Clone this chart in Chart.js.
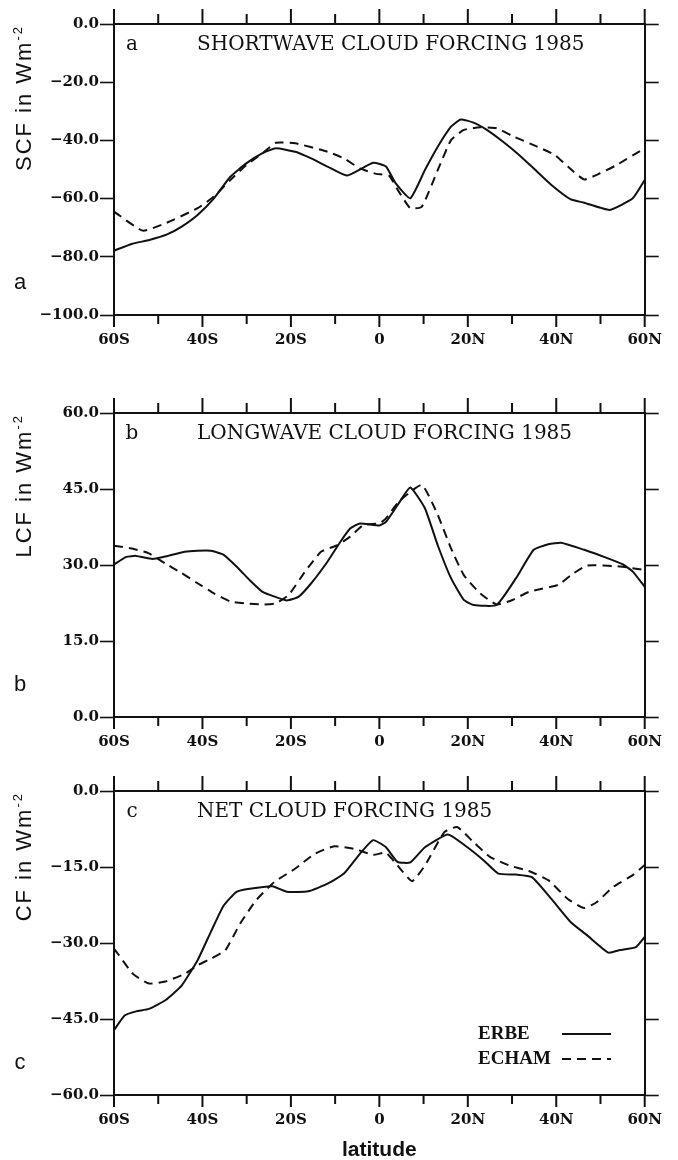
<!DOCTYPE html>
<html>
<head>
<meta charset="utf-8">
<script src="https://cdn.jsdelivr.net/npm/chart.js@4.4.1/dist/chart.umd.min.js"></script>
<style>
html,body{margin:0;padding:0;background:#fff;}
body{width:678px;height:1160px;position:relative;overflow:hidden;}
canvas{position:absolute;left:0;}
</style>
</head>
<body>
<canvas id="cA" width="678" height="370" style="top:0px"></canvas>
<canvas id="cB" width="678" height="395" style="top:370px"></canvas>
<canvas id="cC" width="678" height="395" style="top:765px"></canvas>
<script>
/* latitude ticks, negative = south */
const latTicks = [-60,-50,-40,-30,-20,-10,0,10,20,30,40,50,60];

/* a: shortwave cloud forcing */
const swErbeLat = [-60,-56,-52,-48,-44.7,-41.1,-37.4,-33.7,-30.1,-26.4,-23.4,-19,-15.4,-11.7,-7.3,-1.4,1.5,3.7,7,10.3,13.2,16.2,18.4,21.3,24.3,27.9,31.6,35.3,38.9,43.3,46.3,52.1,57.3,60];
const swErbe    = [-77.9,-75.6,-74.2,-72.3,-69.6,-65.6,-59.9,-52.5,-47.9,-44.4,-42.7,-43.9,-46.2,-49.0,-52.1,-47.7,-49.0,-54.8,-59.9,-50.2,-42.2,-35.3,-32.8,-33.9,-36.4,-40.4,-45.0,-50.2,-55.3,-60.3,-61.4,-63.9,-59.9,-53.6];
const swEchamLat = [-60,-53.5,-48.4,-41.1,-37.4,-33.7,-30.1,-26.4,-23.4,-19,-11.7,-8,-4.4,-0.7,2.2,4.4,7,9.6,13.2,16.2,19.1,22.8,26.5,30.1,35.3,39.7,42.6,46.3,49.9,53.6,60];
const swEcham    = [-64.5,-71.0,-68.5,-63.3,-59.3,-53.6,-48.5,-44.4,-40.8,-41.0,-43.9,-46.2,-49.6,-51.5,-52.1,-57.6,-63.3,-62.8,-50.2,-39.9,-36.4,-35.5,-35.8,-38.5,-41.9,-45.0,-49.0,-53.4,-51.3,-48.5,-42.7];

/* b: longwave cloud forcing */
const lwErbeLat = [-60,-57.2,-55,-51.3,-47.7,-44,-41.1,-38.1,-35.2,-32.3,-29.3,-26.4,-23.5,-20.9,-18.3,-15.4,-11.7,-8.8,-6.6,-4.4,0,1.5,4.4,7,10.3,13.2,16.2,19.1,21.3,26.5,30.9,34.9,38.2,41.1,46.3,51.4,55.1,57.3,60];
const lwErbe    = [30.1,31.6,31.8,31.2,31.8,32.6,32.8,32.8,32.0,29.7,27.0,24.7,23.7,23.0,23.7,26.4,30.7,34.6,37.2,38.2,37.8,38.5,42.2,45.3,41.2,33.9,27.4,23.1,22.1,22.1,27.4,33.0,34.1,34.4,33.0,31.4,30.1,28.7,25.7];
const lwEchamLat = [-60,-55.7,-52.1,-48.4,-44.7,-41.1,-37.4,-33.7,-30.1,-26.4,-23.5,-20.5,-16.8,-13.2,-9.5,-6.6,-3.6,0,1.5,4.4,9.6,13.2,16.2,19.1,22.8,26.5,30.1,33.8,40.5,43.3,47,54.4,60];
const lwEcham    = [33.8,33.2,32.3,30.3,28.4,26.4,24.4,22.8,22.4,22.2,22.4,24.1,28.7,32.6,33.9,35.6,37.9,38.2,39.2,42.5,45.8,39.9,33.3,28.0,24.4,22.2,23.1,24.7,26.1,28.0,29.9,29.7,29.0];

/* c: net cloud forcing */
const cfErbeLat = [-60,-57.6,-55,-52.1,-48.4,-44.7,-41.1,-38.1,-35.2,-32.3,-29.3,-24.2,-20.9,-16.1,-11.7,-8,-4.4,-1.4,1.5,4.1,7,10.3,15.5,19.9,23.6,26.9,30.9,34.5,38.9,43.3,47,51.8,54.4,58,60];
const cfErbe    = [-47.2,-44.3,-43.5,-43.0,-41.3,-38.4,-33.4,-27.8,-22.6,-19.9,-19.3,-18.8,-19.9,-19.8,-18.3,-16.3,-12.4,-9.7,-11.1,-14.0,-14.1,-11.1,-8.6,-11.1,-13.7,-16.3,-16.5,-17.0,-21.3,-25.9,-28.5,-31.9,-31.4,-30.8,-28.8];
const cfEchamLat = [-60,-55.7,-52.1,-48.4,-44,-41.1,-38.1,-34.8,-31.5,-27.9,-23.8,-19,-14.6,-10.2,-5.8,-1.4,1.5,4.1,7.4,10.3,14.7,17.6,21.3,25,29.4,33.8,38.2,42.6,46.3,49.2,52.9,57.3,60];
const cfEcham    = [-31.1,-36.1,-38.0,-37.6,-36.1,-34.4,-33.1,-31.4,-26.2,-21.6,-18.0,-15.3,-12.4,-10.9,-11.4,-12.6,-12.2,-14.7,-17.8,-14.7,-8.1,-7.1,-10.1,-13.0,-14.7,-15.8,-17.6,-21.3,-23.1,-21.9,-18.9,-16.6,-14.6];

const seriesNames = ["ERBE","ECHAM"];

const INK = "#111";

function latLabel(v){ return v<0 ? (-v)+"S" : v>0 ? v+"N" : "0"; }
function numLabel(v){ return (v<0?"\u2212":"") + Math.abs(v).toFixed(1); }

/* frame, outward ticks, titles, legend */
const framePlugin = {
    id:"frame",
    afterDraw(chart, args, o){
        const {ctx, chartArea:a, scales:{x}} = chart;
        ctx.save();
        ctx.strokeStyle=INK; ctx.lineWidth=2;
        ctx.beginPath(); ctx.moveTo(a.left-1,a.top); ctx.lineTo(a.right+1,a.top); ctx.stroke();
        latTicks.forEach(v=>{
            let px=x.getPixelForValue(v), big=v%20===0;
            ctx.beginPath();
            ctx.moveTo(px,a.top-(big?15:10)); ctx.lineTo(px,a.top);
            ctx.moveTo(px,a.bottom); ctx.lineTo(px,a.bottom+(big?12:9));
            ctx.stroke();
        });

        ctx.fillStyle=INK;
        ctx.textBaseline="middle";
        ctx.font='20px "DejaVu Serif"';
        ctx.textAlign="center";
        ctx.fillText(o.letter,132,a.top+21);
        ctx.textAlign="left";
        ctx.font='20px "DejaVu Serif"';
        ctx.fillText(o.title,197,a.top+21);

        ctx.font='22px "Liberation Sans"';
        ctx.textAlign="center";
        ctx.fillText(o.letter,20,a.bottom-32);

        if(o.legend){
            ctx.font='bold 19px "Liberation Serif"';
            ctx.textAlign="left";
            chart.data.datasets.forEach((d,i)=>{
                let y=o.legend.y+i*25;
                ctx.fillText(d.label,o.legend.x,y);
                ctx.setLineDash(d.borderDash||[]);
                ctx.lineWidth=1.8;
                ctx.beginPath(); ctx.moveTo(562,y); ctx.lineTo(611,y); ctx.stroke();
            });
            ctx.setLineDash([]);
        }

        /* rotated y title with superscript */
        ctx.translate(31,a.top+1);
        ctx.rotate(-Math.PI/2);
        ctx.textBaseline="alphabetic";
        ctx.textAlign="left";
        ctx.letterSpacing="2px";
        ctx.font='22px "Liberation Sans"';
        let w1=ctx.measureText(o.yTitle).width;
        ctx.font='13px "Liberation Sans"';
        let w2=ctx.measureText("-2").width;
        ctx.font='22px "Liberation Sans"';
        ctx.fillText(o.yTitle,-(w1+w2),0);
        ctx.font='13px "Liberation Sans"';
        ctx.fillText("-2",-w2,-9);
        ctx.restore();
    }
};

function panel(id, lats, vals, yMin, yMax, yStep, info, padTop, xHeight, xTitle){
    let tickFont={family:"DejaVu Serif",weight:"bold",size:15};
    let yGrid={display:true,drawOnChartArea:false,drawTicks:true,tickLength:14,color:INK,tickColor:INK,tickWidth:1.6};
    return new Chart(document.getElementById(id),{
        type:"line",
        data:{
            datasets:[0,1].map(k=>({
                label:seriesNames[k],
                data:lats[k].map((x,i)=>({x:x,y:vals[k][i]})),
                borderColor:INK,
                borderWidth:2,
                borderDash:k?[9,6]:[],
                pointRadius:0,
                tension:0.15,
                fill:false
            }))
        },
        options:{
            responsive:false,
            animation:false,
            layout:{padding:{top:padTop,left:0,right:0,bottom:0}},
            plugins:{legend:{display:false},tooltip:{enabled:false},frame:info},
            scales:{
                x:{
                    type:"linear",min:-60,max:60,position:"bottom",
                    afterFit:s=>{s.height=xHeight;},
                    grid:{display:false,drawTicks:false},
                    border:{display:true,color:INK,width:2},
                    ticks:{stepSize:20,padding:16,color:INK,font:tickFont,callback:latLabel,maxRotation:0,autoSkip:false},
                    title:{display:!!xTitle,text:xTitle||"",color:INK,font:{family:"Liberation Sans",weight:"bold",size:21},padding:{top:0,bottom:-3}}
                },
                y:{
                    min:yMin,max:yMax,position:"left",
                    afterFit:s=>{s.width=114;},
                    grid:yGrid,
                    border:{display:true,color:INK,width:2},
                    ticks:{stepSize:yStep,padding:1,color:INK,font:tickFont,callback:numLabel}
                },
                y2:{
                    min:yMin,max:yMax,position:"right",
                    afterFit:s=>{s.width=19;},
                    grid:yGrid,
                    border:{display:true,color:INK,width:2},
                    ticks:{stepSize:yStep,callback:()=>""}
                }
            }
        },
        plugins:[framePlugin]
    });
}

panel("cA",[swErbeLat,swEchamLat],[swErbe,swEcham],-100,0,20,
    {letter:"a",title:"SHORTWAVE CLOUD FORCING 1985",yTitle:"SCF in Wm"},24,55);
panel("cB",[lwErbeLat,lwEchamLat],[lwErbe,lwEcham],0,60,15,
    {letter:"b",title:"LONGWAVE CLOUD FORCING 1985",yTitle:"LCF in Wm"},43,48);
panel("cC",[cfErbeLat,cfEchamLat],[cfErbe,cfEcham],-60,0,15,
    {letter:"c",title:"NET CLOUD FORCING 1985",yTitle:"CF in Wm",legend:{x:478,y:269}},26,65,"latitude");
</script>
</body>
</html>
